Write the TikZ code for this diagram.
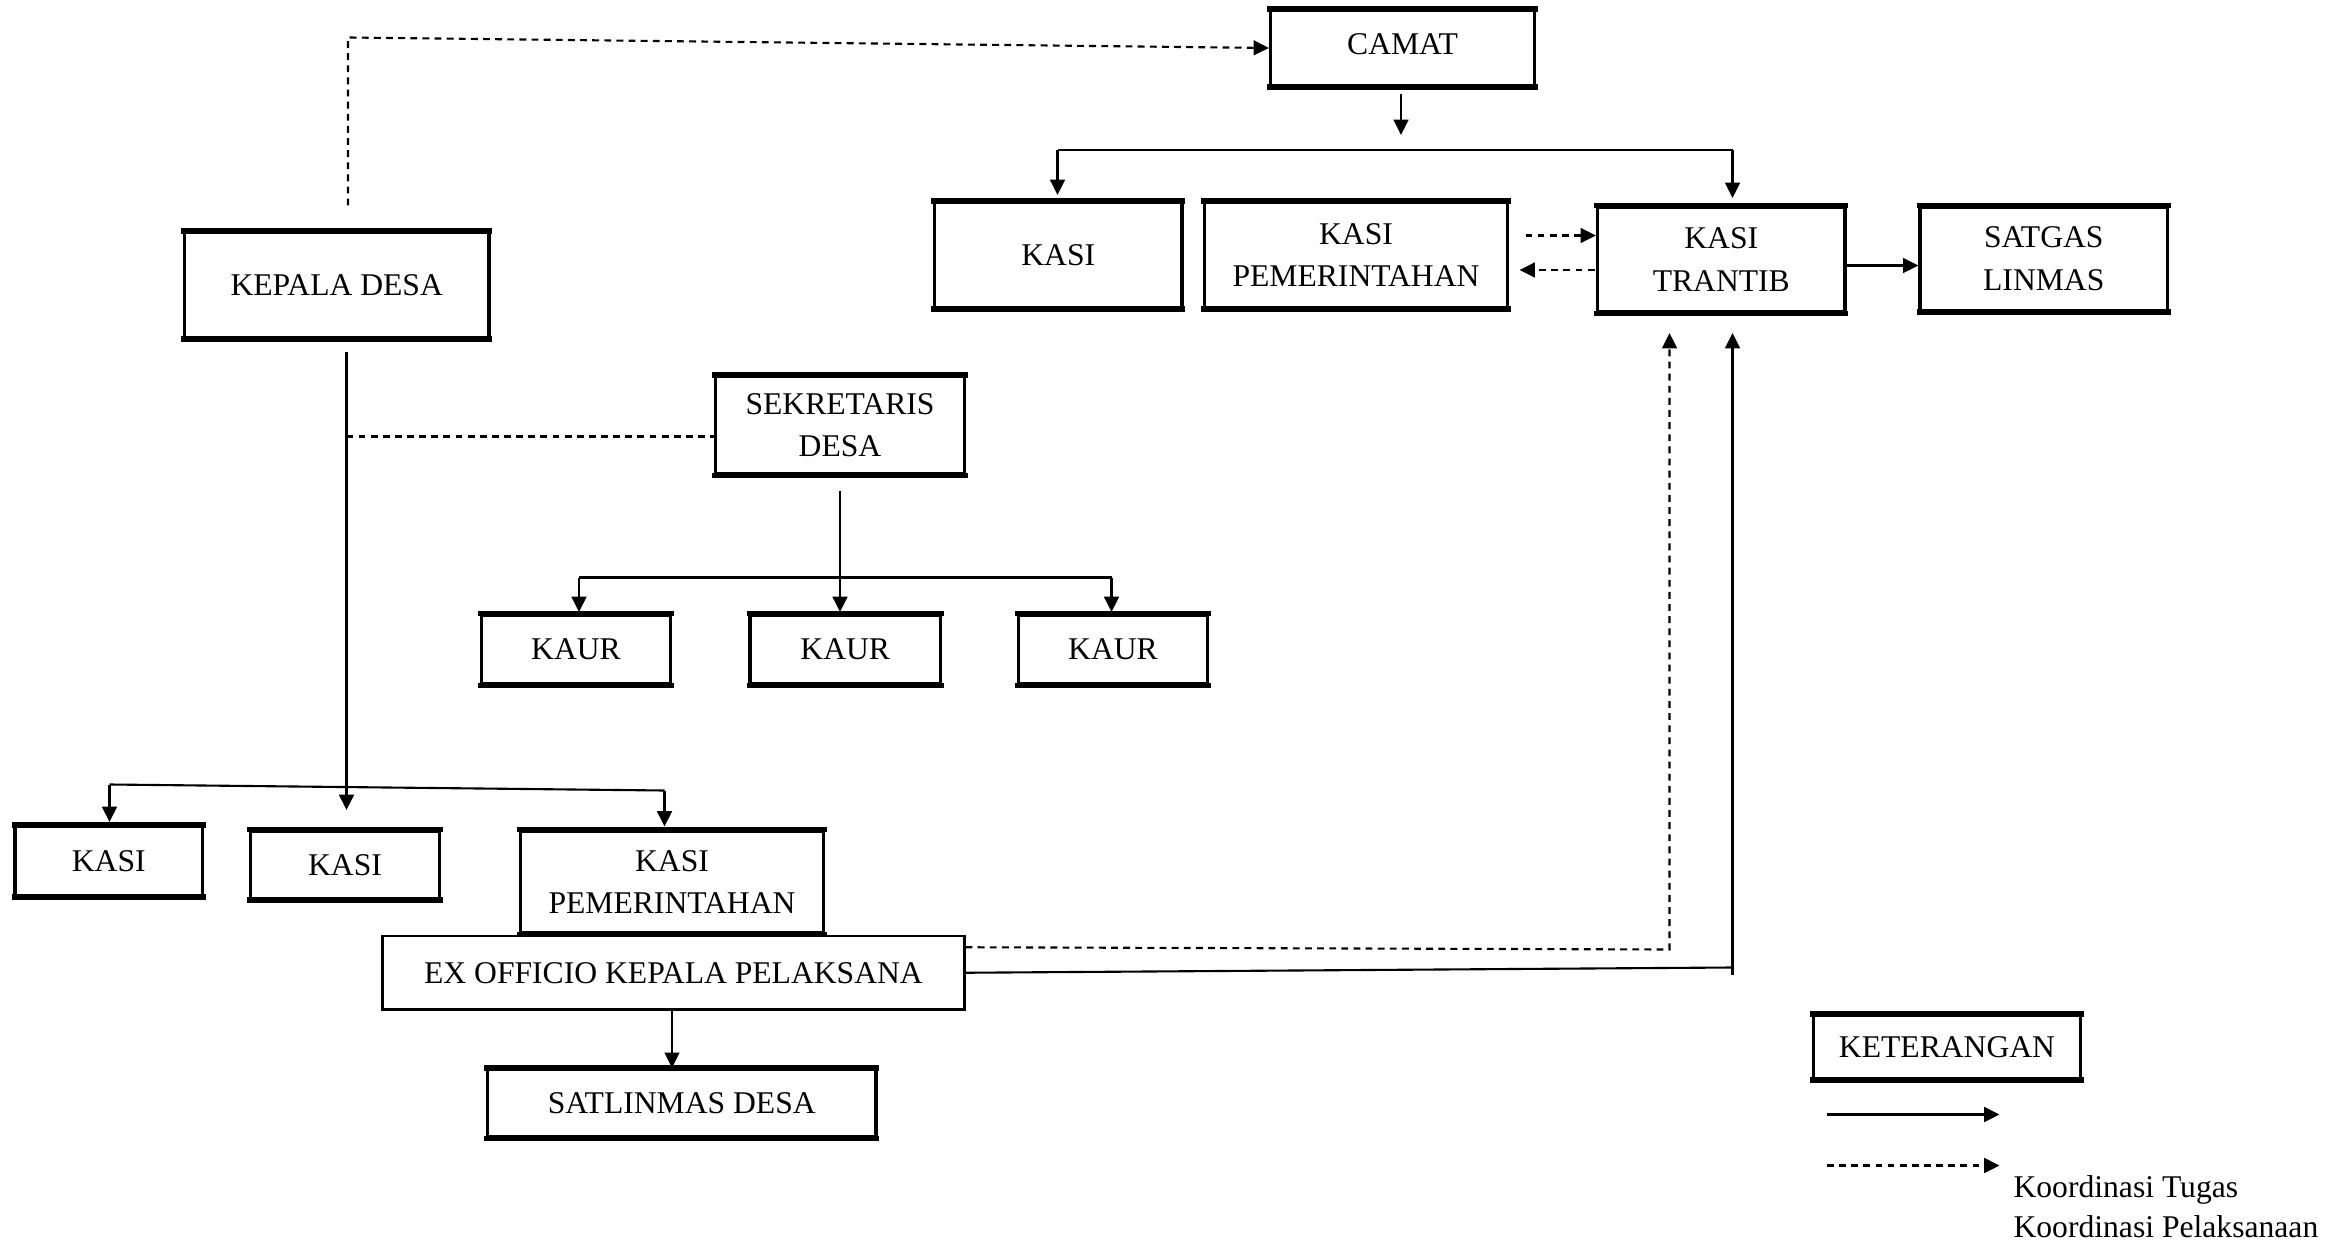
\documentclass[tikz,border=0pt]{standalone}
\usepackage{fontspec}
\setmainfont{Liberation Serif}
\usetikzlibrary{arrows.meta,fit,calc}
\begin{document}
\begin{tikzpicture}[x=0.02cm,y=-0.02cm,
  font=\fontsize{12}{16}\selectfont,
  box/.style={draw,line width=1.2pt,inner sep=0pt},
  thinbox/.style={draw,line width=0.8pt,inner sep=0pt},
  txt/.style={inner sep=0pt,align=center},
  link/.style={line width=0.8pt},
  coord/.style={line width=0.8pt,dash pattern=on 2.6pt off 2pt},
  arr/.style={-{Triangle[length=5.8pt,width=5.6pt]}}
]
\useasboundingbox (0,0) rectangle (1568,831);

% ---- kecamatan ----
\node[box,fit={(847,7)(1023,57)}] (camat) {};
\node[box,fit={(623,135)(788,205)}] (kasiA) {};
\node[box,fit={(803,135)(1005,205)}] (kasipemA) {};
\node[box,fit={(1065,138)(1230,208)}] (trantib) {};
\node[box,fit={(1280,138)(1445,207)}] (satgas) {};

% ---- desa ----
\node[box,fit={(123,155)(326,225)}] (kades) {};
\node[box,fit={(477,251)(643,316)}] (sekdes) {};
\node[box,fit={(321,410)(447,456)}] (kaur1) {};
\node[box,fit={(500,410)(627,456)}] (kaur2) {};
\node[box,fit={(679,410)(805,456)}] (kaur3) {};
\node[box,fit={(10,551)(135,597)}] (kasi1) {};
\node[box,fit={(167,554)(293,599)}] (kasi2) {};
\node[box,fit={(347,554)(549,622)}] (kasipemB) {};
\node[thinbox,fit={(255,624)(643,673)}] (exoff) {};
\node[box,fit={(325,713)(584,758)}] (satlin) {};

% ---- legend ----
\node[box,fit={(1209,677)(1387,719)}] (ket) {};

% heavier top and bottom edges of the boxes
\foreach \n in {camat,kasiA,kasipemA,trantib,satgas,kades,sekdes,kaur1,kaur2,kaur3,kasi1,kasi2,kasipemB,satlin,ket}{
  \draw[line width=2pt] ([xshift=-0.6pt]\n.north west) -- ([xshift=0.6pt]\n.north east);
  \draw[line width=2pt] ([xshift=-0.6pt]\n.south west) -- ([xshift=0.6pt]\n.south east);
}

% ---- box texts ----
\node[txt] (camatT) at ([yshift=1.5pt]camat.center) {CAMAT};
\node[txt] (kasiAT) at (kasiA.center) {KASI};
\node[txt] (kasipemAT) at (kasipemA.center) {KASI\\PEMERINTAHAN};
\node[txt] (trantibT) at (trantib.center) {KASI\\TRANTIB};
\node[txt] (satgasT) at (satgas.center) {SATGAS\\LINMAS};
\node[txt] (kadesT) at (kades.center) {KEPALA DESA};
\node[txt] (sekdesT) at (sekdes.center) {SEKRETARIS\\DESA};
\node[txt] (kaur1T) at (kaur1.center) {KAUR};
\node[txt] (kaur2T) at (kaur2.center) {KAUR};
\node[txt] (kaur3T) at (kaur3.center) {KAUR};
\node[txt] (kasi1T) at (kasi1.center) {KASI};
\node[txt] (kasi2T) at (kasi2.center) {KASI};
\node[txt] (kasipemBT) at (kasipemB.center) {KASI\\PEMERINTAHAN};
\node[txt] (exoffT) at (exoff.center) {EX OFFICIO KEPALA PELAKSANA};
\node[txt] (satlinT) at (satlin.center) {SATLINMAS DESA};
\node[txt] (ketT) at (ket.center) {KETERANGAN};
\node[anchor=west,inner sep=0pt] (lg1) at (1342,793) {Koordinasi Tugas};
\node[anchor=west,inner sep=0pt] (lg2) at (1342,818) {Koordinasi Pelaksanaan};

% ---- connectors: kecamatan ----
\coordinate (kdup) at (232,137);
\coordinate (kdcorner) at (232,25);
\draw[coord,arr] (kdup) -- (kdcorner) -- (camat.west);

\coordinate (cm1) at (934,63);
\coordinate (cm2) at (934,90);
\draw[link,arr] (cm1) -- (cm2);

\coordinate (brL) at (705,100);
\coordinate (brR) at (1155,100);
\draw[link] (brL) -- (brR);
\draw[link,arr] (brL) -- (705,130);
\draw[link,arr] (brR) -- (1155,132);

\coordinate (pt1) at (1017,157);
\coordinate (pt2) at (1063,180);
\draw[coord,arr] (pt1) -- (pt1 -| trantib.west);
\draw[coord,arr] (pt2) -- (1013,180);
\draw[link,arr] (trantib.east |- 0,177) -- (satgas.west |- 0,177);

% ---- connectors: desa ----
\coordinate (kdv1) at (231,235);
\coordinate (kdv2) at (231,540);
\draw[link,arr] (kdv1) -- (kdv2);

\coordinate (sekdash) at (231,291);
\draw[coord] (sekdash) -- (sekdash -| sekdes.west);

\coordinate (sv1) at (560,327);
\draw[link,arr] (sv1) -- (560,408);
\coordinate (sbL) at (386,385);
\coordinate (sbR) at (741,385);
\draw[link] (sbL) -- (sbR);
\draw[link,arr] (sbL) -- (386,408);
\draw[link,arr] (sbR) -- (741,408);

\coordinate (kbL) at (73,523);
\coordinate (kbR) at (443,527);
\draw[link] (kbL) -- (kbR);
\draw[link,arr] (kbL) -- (73,548);
\draw[link,arr] (kbR) -- (443,551);

\draw[link,arr] (exoff.south -| 448,0) -- (satlin.north -| 448,0);

% ex officio to kasi trantib
\coordinate (exd1) at (1113,633);
\coordinate (exd2) at (1113,222);
\draw[coord,arr] ($(exoff.east)+(0,-17)$) -- (exd1) -- (exd2);
\coordinate (exs1) at (1155,645);
\draw[link] (exoff.east) -- (exs1);
\draw[link,arr] (1155,650) -- (1155,222);

% legend arrows
\coordinate (la1) at (1218,743);
\coordinate (la2) at (1218,777);
\draw[link,arr] (la1) -- (1333,743);
\draw[coord,arr] (la2) -- (1333,777);
\end{tikzpicture}
\end{document}
